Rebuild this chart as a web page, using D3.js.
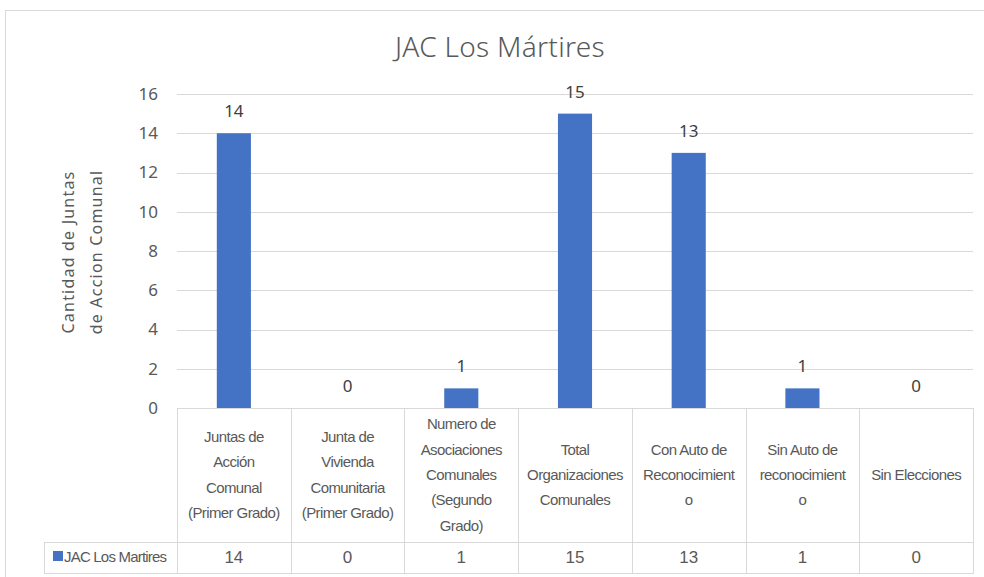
<!DOCTYPE html>
<html>
<head>
<meta charset="utf-8">
<script src="https://cdn.jsdelivr.net/npm/d3@7"></script>
<style>
  body { margin: 0; background: #fff; }
  svg { display: block; }
</style>
</head>
<body>
<svg id="chart"></svg>
<script>
// Data
const categories = [
  'Juntas de Acción Comunal (Primer Grado)',
  'Junta de Vivienda Comunitaria (Primer Grado)',
  'Numero de Asociaciones Comunales (Segundo Grado)',
  'Total Organizaciones Comunales',
  'Con Auto de Reconocimiento',
  'Sin Auto de reconocimiento',
  'Sin Elecciones'
]
const categoryLines = [
  ['Juntas de', 'Acción', 'Comunal', '(Primer Grado)'],
  ['Junta de', 'Vivienda', 'Comunitaria', '(Primer Grado)'],
  ['Numero de', 'Asociaciones', 'Comunales', '(Segundo', 'Grado)'],
  ['Total', 'Organizaciones', 'Comunales'],
  ['Con Auto de', 'Reconocimient', 'o'],
  ['Sin Auto de', 'reconocimient', 'o'],
  ['Sin Elecciones']
]
const values = [14, 0, 1, 15, 13, 1, 0]
const yTicks = [0, 2, 4, 6, 8, 10, 12, 14, 16]
const seriesName = 'JAC Los Martires'
const chartTitle = 'JAC Los Mártires'
const yTitleLines = ['Cantidad de Juntas', 'de Accion Comunal']

const width = 984
const height = 577
const barColor = '#4472C4'
const textColor = '#595959'
const lineColor = '#d9d9d9'
const numFont = '"Noto Sans", sans-serif'
const narrowFont = '"Liberation Sans Narrow", "Arial Narrow", sans-serif'

const plotLeft = 177
const plotRight = 973
const plotTop = 94
const plotBottom = 408
const tableTop = 408
const tableMid = 542
const tableBottom = 573
const legendLeft = 44

const svg = d3.select('#chart').attr('width', width).attr('height', height)

// Outer chart border
svg.append('rect')
  .attr('x', 5.5).attr('y', 10.5)
  .attr('width', 1000).attr('height', 700)
  .attr('fill', 'none').attr('stroke', lineColor)

// Title
svg.append('text')
  .attr('x', 500).attr('y', 57)
  .attr('text-anchor', 'middle')
  .attr('font-family', numFont)
  .attr('font-size', 28)
  .attr('font-weight', 300)
  .attr('letter-spacing', 0.3)
  .attr('fill', textColor)
  .text(chartTitle)

// Scales
const x = d3.scaleBand().domain(categories).range([plotLeft, plotRight])
const y = d3.scaleLinear().domain([0, 16]).range([plotBottom, plotTop])
const barW = x.bandwidth() * 0.3

// Gridlines
svg.append('g')
  .selectAll('line')
  .data(yTicks.filter(d => d > 0))
  .join('line')
  .attr('x1', plotLeft).attr('x2', plotRight)
  .attr('y1', d => Math.round(y(d)) + 0.5)
  .attr('y2', d => Math.round(y(d)) + 0.5)
  .attr('stroke', lineColor)

// Y axis tick labels
const yAxis = d3.axisLeft(y).tickValues(yTicks).tickSize(0).tickPadding(0)
svg.append('g')
  .attr('transform', `translate(158,0)`)
  .call(yAxis)
  .call(g => g.select('.domain').remove())
  .call(g => g.selectAll('text')
    .attr('font-family', numFont)
    .attr('font-size', 17)
    .attr('fill', textColor))

// Y axis title
const yTitle = svg.append('text')
  .attr('transform', 'translate(74,252) rotate(-90)')
  .attr('text-anchor', 'middle')
  .attr('font-family', numFont)
  .attr('font-size', 16)
  .attr('letter-spacing', 1.2)
  .attr('fill', textColor)
yTitle.selectAll('tspan')
  .data(yTitleLines)
  .join('tspan')
  .attr('x', 0)
  .attr('dy', (d, i) => (i === 0 ? 0 : 28))
  .text(d => d)

// Bars
svg.append('g')
  .selectAll('rect')
  .data(values)
  .join('rect')
  .attr('x', (d, i) => x(categories[i]) + (x.bandwidth() - barW) / 2)
  .attr('y', d => y(d))
  .attr('width', barW)
  .attr('height', d => y(0) - y(d))
  .attr('fill', barColor)

// Value labels
svg.append('g')
  .selectAll('text')
  .data(values)
  .join('text')
  .attr('x', (d, i) => x(categories[i]) + x.bandwidth() / 2)
  .attr('y', d => y(d) - 16)
  .attr('text-anchor', 'middle')
  .attr('font-family', numFont)
  .attr('font-size', 17)
  .attr('fill', '#404040')
  .text(d => d)

// Data table borders
const table = svg.append('g').attr('stroke', lineColor).attr('fill', 'none')
const bounds = [plotLeft].concat(categories.map(c => x(c) + x.bandwidth()))
table.selectAll('.vline')
  .data(bounds)
  .join('line')
  .attr('class', 'vline')
  .attr('x1', d => Math.round(d) + 0.5).attr('x2', d => Math.round(d) + 0.5)
  .attr('y1', tableTop).attr('y2', tableBottom + 0.5)
table.append('line')
  .attr('x1', plotLeft).attr('x2', plotRight)
  .attr('y1', tableTop + 0.5).attr('y2', tableTop + 0.5)
table.append('line')
  .attr('x1', legendLeft).attr('x2', plotRight + 1)
  .attr('y1', tableMid + 0.5).attr('y2', tableMid + 0.5)
table.append('line')
  .attr('x1', legendLeft).attr('x2', plotRight + 1)
  .attr('y1', tableBottom + 0.5).attr('y2', tableBottom + 0.5)
table.append('line')
  .attr('x1', legendLeft + 0.5).attr('x2', legendLeft + 0.5)
  .attr('y1', tableMid).attr('y2', tableBottom + 0.5)

// Category labels in the table
const lineH = 25.3
const cellMid = (tableTop + tableMid) / 2
svg.append('g')
  .selectAll('text')
  .data(categoryLines)
  .join('text')
  .attr('text-anchor', 'middle')
  .attr('font-family', narrowFont)
  .attr('font-size', 15)
  .attr('letter-spacing', -0.6)
  .attr('fill', textColor)
  .each(function(lines, i) {
    const cx = x(categories[i]) + x.bandwidth() / 2
    const startY = cellMid - ((lines.length - 1) * lineH) / 2 + 5
    d3.select(this).selectAll('tspan')
      .data(lines)
      .join('tspan')
      .attr('x', cx)
      .attr('y', (d, j) => startY + j * lineH)
      .text(d => d)
  })

// Legend cell
svg.append('rect')
  .attr('x', 53).attr('y', 551)
  .attr('width', 10).attr('height', 10)
  .attr('fill', barColor)
svg.append('text')
  .attr('x', 64).attr('y', 562)
  .attr('font-family', narrowFont)
  .attr('font-size', 15)
  .attr('letter-spacing', -0.8)
  .attr('fill', textColor)
  .text(seriesName)

// Values row
svg.append('g')
  .selectAll('text')
  .data(values)
  .join('text')
  .attr('x', (d, i) => x(categories[i]) + x.bandwidth() / 2)
  .attr('y', 563)
  .attr('text-anchor', 'middle')
  .attr('font-family', narrowFont)
  .attr('font-size', 17)
  .attr('fill', textColor)
  .text(d => d)
</script>
</body>
</html>
